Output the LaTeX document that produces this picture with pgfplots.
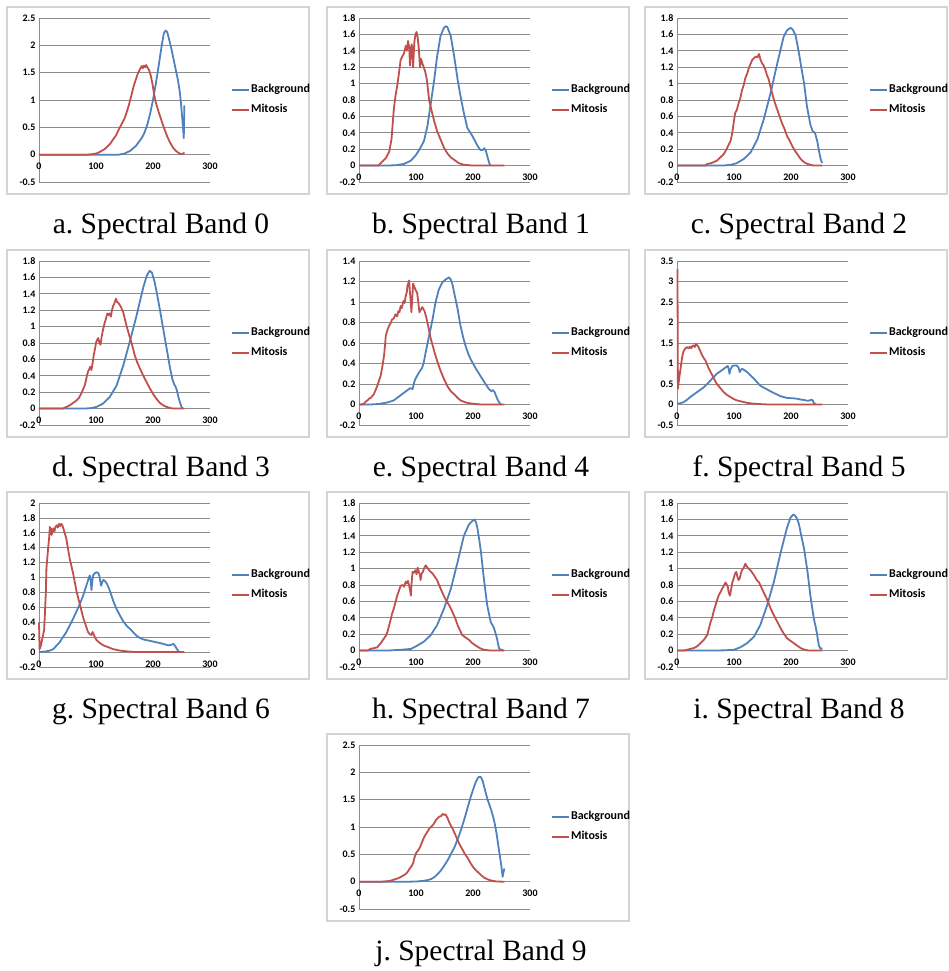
\documentclass[border=0pt]{standalone}
\usepackage{pgfplots}
\pgfplotsset{compat=1.18}
\usepackage{fontspec}
\newfontfamily\carlito{Carlito}
\newfontfamily\libserif{Liberation Serif}
\newcommand\tickfont{\carlito\bfseries\fontsize{10}{11}\selectfont}
\newcommand\legfont{\carlito\bfseries\fontsize{12}{14}\selectfont}
\newcommand\capfont{\libserif\fontsize{29.5}{34}\selectfont}
\definecolor{bgblue}{HTML}{4F81BD}
\definecolor{mired}{HTML}{C0504D}
\definecolor{gridgray}{HTML}{8C8C8C}
\definecolor{boxgray}{HTML}{D4D4D4}
\pgfplotsset{
 panel/.style={
  scale only axis, width=171pt, height=164pt,
  xmin=0, xmax=300, xtick={0,100,200,300},
  axis lines=left, clip=false,
  axis line style={-, draw=gridgray, line width=0.75pt},
  major tick length=0pt,
  ymajorgrids, grid style={draw=gridgray, line width=0.75pt},
  tick label style={font=\tickfont, text=black},
  /pgf/number format/fixed, /pgf/number format/precision=1,
  /pgf/number format/assume math mode=true,
  legend style={at={(axis description cs:1.123,0.5)}, anchor=west, draw=none, fill=none,
    font=\legfont, inner sep=0pt, row sep=7pt,
    nodes={inner sep=1pt, text height=8.5pt, text depth=2.5pt}},
  legend cell align=left,
  legend image code/.code={\draw[##1, line width=1.8pt] (0pt,0pt) -- (17pt,0pt);},
 },
 xlab/.style={xticklabel style={yshift=#1}},
 bg/.style={color=bgblue, line width=1.8pt, no markers, line join=round},
 mi/.style={color=mired, line width=1.8pt, no markers, line join=round},
 ya/.style={ymin=-0.5, ymax=2.5, ytick={-0.5,0,0.5,1,1.5,2,2.5}, xlab=22.3pt},
 yb/.style={ymin=-0.2, ymax=1.8, ytick={-0.2,0,0.2,0.4,0.6,0.8,1,1.2,1.4,1.6,1.8}, xlab=11.4pt},
 ye/.style={ymin=-0.2, ymax=1.4, ytick={-0.2,0,0.2,0.4,0.6,0.8,1,1.2,1.4}, xlab=15.5pt},
 yf/.style={ymin=-0.5, ymax=3.5, ytick={-0.5,0,0.5,1,1.5,2,2.5,3,3.5}, xlab=15.5pt},
 yg/.style={ymin=-0.2, ymax=2, ytick={-0.2,0,0.2,0.4,0.6,0.8,1,1.2,1.4,1.6,1.8,2}, xlab=9.9pt},
}
\begin{document}
\frenchspacing
\begin{tikzpicture}
\useasboundingbox (0pt,0pt) rectangle (948pt,971pt);
% boxes
\foreach \bx/\by in {7/777,327/777,645/777,7/534,327/534,645/534,7/292,327/292,645/292,327/50}{
  \draw[boxgray, line width=1.2pt] (\bx pt,\by pt) rectangle ++(302pt,187pt);
}
% a
\begin{axis}[panel, ya, at={(39pt,789pt)}, anchor=south west]
\addplot[bg] coordinates {(0,0) (140,0) (150,0.02) (160,0.07) (170,0.16) (180,0.3) (185,0.4) (190,0.55) (195,0.75) (200,1.0) (205,1.3) (210,1.63) (215,1.98) (219,2.22) (222,2.27) (225,2.24) (228,2.12) (232,1.95) (236,1.75) (240,1.55) (244,1.35) (247,1.15) (249,0.95) (251,0.7) (253,0.45) (254,0.3) (255,0.9)};
\addlegendentry{Background}
\addplot[mi] coordinates {(0,0) (85,0) (95,0.01) (100,0.02) (105,0.04) (110,0.07) (115,0.1) (120,0.15) (125,0.2) (130,0.28) (135,0.35) (140,0.46) (145,0.56) (150,0.66) (154,0.78) (158,0.92) (162,1.08) (166,1.25) (170,1.38) (174,1.5) (178,1.58) (180,1.62) (182,1.58) (184,1.63) (186,1.6) (188,1.64) (190,1.6) (193,1.55) (196,1.45) (199,1.3) (202,1.1) (205,0.95) (210,0.78) (215,0.62) (220,0.47) (225,0.33) (230,0.22) (235,0.13) (240,0.07) (245,0.03) (250,0.01) (253,0.02) (255,0.04)};
\addlegendentry{Mitosis}
\end{axis}
% b
\begin{axis}[panel, yb, at={(359pt,789pt)}, anchor=south west]
\addplot[bg] coordinates {(0,0) (50,0) (65,0.005) (79,0.02) (91,0.06) (100,0.13) (108,0.22) (114,0.3) (120,0.48) (126,0.76) (132,1.05) (137,1.33) (143,1.58) (149,1.68) (152,1.7) (155,1.69) (161,1.58) (167,1.33) (173,1.05) (178,0.85) (184,0.64) (190,0.46) (199,0.36) (208,0.24) (213,0.19) (217,0.19) (220,0.21) (223,0.17) (226,0.09) (230,0)};
\addlegendentry{Background}
\addplot[mi] coordinates {(0,0) (34,0) (38,0.03) (47,0.09) (53,0.17) (57,0.32) (61,0.68) (64,0.85) (67,0.97) (70,1.12) (73,1.29) (76,1.33) (79,1.37) (82,1.46) (84,1.4) (86,1.52) (88,1.45) (89.5,1.22) (91,1.4) (92.5,1.48) (95,1.2) (97,1.5) (99,1.6) (101,1.63) (103,1.56) (105,1.42) (107,1.2) (109,1.3) (111,1.25) (113,1.21) (116,1.15) (119,1.05) (123,0.8) (127,0.68) (132,0.54) (137,0.42) (143,0.32) (149,0.22) (155,0.15) (161,0.1) (167,0.07) (175,0.03) (184,0.01) (200,0) (255,0)};
\addlegendentry{Mitosis}
\end{axis}
% c
\begin{axis}[panel, yb, at={(677pt,789pt)}, anchor=south west]
\addplot[bg] coordinates {(0,0) (80,0) (95,0.01) (105,0.03) (117,0.08) (129,0.16) (141,0.32) (152,0.56) (164,0.88) (176,1.25) (187,1.57) (193,1.65) (199,1.68) (203,1.66) (208,1.59) (214,1.37) (218,1.2) (223,1.0) (228,0.72) (234,0.5) (238,0.42) (242,0.4) (246,0.3) (249,0.18) (252,0.08) (254,0.04) (255,0.05)};
\addlegendentry{Background}
\addplot[mi] coordinates {(0,0) (50,0) (53,0.02) (60,0.03) (70,0.06) (76,0.1) (82,0.14) (87,0.2) (91,0.26) (94,0.3) (97,0.4) (100,0.55) (102,0.64) (105,0.68) (108,0.76) (111,0.82) (114,0.92) (117,0.98) (120,1.07) (123,1.12) (126,1.19) (129,1.24) (132,1.29) (135,1.31) (138,1.33) (141,1.32) (144,1.36) (146,1.3) (149,1.25) (152,1.22) (155,1.17) (158,1.1) (161,1.05) (164,0.96) (167,0.88) (171,0.78) (176,0.68) (180,0.6) (184,0.52) (189,0.44) (193,0.36) (198,0.3) (202,0.24) (207,0.18) (211,0.14) (217,0.08) (223,0.04) (229,0.02) (234,0.01) (240,0) (255,0)};
\addlegendentry{Mitosis}
\end{axis}
% d
\begin{axis}[panel, yb, at={(39pt,546pt)}, anchor=south west]
\addplot[bg] coordinates {(0,0) (80,0) (90,0.005) (101,0.02) (112,0.06) (124,0.14) (136,0.28) (148,0.53) (159,0.81) (171,1.13) (183,1.48) (189,1.62) (194,1.68) (198,1.66) (203,1.54) (207,1.4) (212,1.21) (216,1.05) (221,0.85) (226,0.65) (230,0.49) (234,0.36) (237,0.3) (240,0.26) (242,0.22) (245,0.13) (248,0.06) (250,0.02) (252,0)};
\addlegendentry{Background}
\addplot[mi] coordinates {(0,0) (42,0) (48,0.02) (54,0.04) (60,0.07) (66,0.1) (70,0.13) (74,0.18) (77,0.23) (80,0.28) (82,0.33) (84,0.4) (86,0.45) (88,0.48) (90,0.51) (92,0.47) (94,0.55) (96,0.65) (98,0.72) (100,0.8) (102,0.84) (104,0.86) (106,0.8) (108,0.78) (110,0.88) (112,0.95) (115,1.04) (118,1.11) (120,1.16) (122,1.14) (124,1.16) (126,1.12) (128,1.2) (130,1.25) (132,1.28) (135,1.34) (137,1.3) (139,1.29) (141,1.27) (143,1.25) (145,1.22) (148,1.17) (151,1.08) (154,1.0) (158,0.9) (162,0.81) (165,0.73) (168,0.65) (172,0.57) (177,0.49) (183,0.4) (189,0.32) (195,0.24) (200,0.18) (206,0.12) (212,0.07) (218,0.04) (224,0.02) (232,0.005) (236,0) (255,0)};
\addlegendentry{Mitosis}
\end{axis}
% e
\begin{axis}[panel, ye, at={(359pt,546pt)}, anchor=south west]
\addplot[bg] coordinates {(0,0) (20,0) (35,0.005) (50,0.02) (61,0.04) (73,0.09) (85,0.14) (90,0.16) (94,0.15) (97,0.22) (99,0.25) (105,0.31) (111,0.36) (114,0.42) (117,0.51) (123,0.67) (129,0.83) (134,0.99) (140,1.12) (146,1.19) (152,1.22) (158,1.24) (161,1.22) (164,1.17) (167,1.09) (173,0.93) (178,0.77) (183,0.65) (187,0.57) (192,0.49) (196,0.44) (205,0.35) (214,0.27) (222,0.2) (228,0.15) (232,0.13) (235,0.14) (238,0.12) (240,0.09) (243,0.05) (246,0.02) (249,0)};
\addlegendentry{Background}
\addplot[mi] coordinates {(0,0) (5,0) (9,0.01) (12,0.03) (15,0.04) (18,0.06) (20,0.06) (23,0.08) (26,0.1) (29,0.14) (32,0.18) (35,0.23) (38,0.28) (41,0.37) (44,0.48) (46,0.6) (47,0.67) (50,0.73) (53,0.77) (56,0.8) (58,0.83) (61,0.84) (64,0.88) (67,0.86) (69,0.91) (71,0.9) (73,0.96) (75,0.94) (78,1.01) (80,0.99) (82,1.06) (84,1.1) (85,1.16) (87,1.19) (88,1.21) (89,1.12) (90,1.05) (91,0.98) (92,0.9) (93,1.0) (95,1.18) (97,1.15) (99,1.12) (102,1.09) (104,1.0) (106,0.9) (108,0.92) (111,0.95) (113,0.93) (115,0.91) (118,0.85) (120,0.8) (123,0.72) (126,0.64) (130,0.56) (134,0.48) (138,0.41) (143,0.33) (149,0.25) (155,0.18) (161,0.13) (167,0.1) (172,0.07) (178,0.04) (187,0.02) (196,0.01) (213,0) (255,0)};
\addlegendentry{Mitosis}
\end{axis}
% f
\begin{axis}[panel, yf, at={(677pt,546pt)}, anchor=south west]
\addplot[bg] coordinates {(0,0.02) (6,0.03) (12,0.06) (18,0.12) (23,0.18) (29,0.24) (35,0.3) (41,0.36) (47,0.42) (53,0.5) (59,0.59) (64,0.67) (70,0.75) (76,0.81) (82,0.87) (86,0.91) (89,0.94) (91,0.85) (92,0.75) (94,0.86) (97,0.94) (101,0.95) (105,0.95) (108,0.9) (110,0.79) (112,0.84) (114,0.87) (118,0.84) (123,0.79) (129,0.71) (135,0.63) (140,0.55) (146,0.46) (152,0.41) (158,0.37) (164,0.32) (170,0.28) (176,0.24) (182,0.2) (188,0.18) (193,0.16) (205,0.15) (211,0.14) (217,0.12) (223,0.11) (229,0.09) (233,0.1) (236,0.12) (238,0.1) (240,0.04) (243,0)};
\addlegendentry{Background}
\addplot[mi] coordinates {(0.8,3.3) (1.6,0.38) (3,0.55) (5,0.75) (7,0.95) (9,1.15) (11,1.28) (14,1.36) (16,1.38) (18,1.4) (20,1.37) (23,1.41) (25,1.37) (27,1.43) (29,1.44) (31,1.4) (33,1.48) (35,1.45) (37,1.42) (39,1.36) (41,1.3) (44,1.2) (47,1.13) (50,1.07) (53,0.97) (56,0.87) (59,0.79) (62,0.71) (66,0.6) (70,0.5) (76,0.4) (82,0.3) (88,0.23) (94,0.18) (100,0.13) (105,0.1) (114,0.07) (123,0.04) (135,0.02) (146,0.01) (160,0) (255,0)};
\addlegendentry{Mitosis}
\end{axis}
% g
\begin{axis}[panel, yg, at={(39pt,304pt)}, anchor=south west]
\addplot[bg] coordinates {(0,0) (7,0.005) (13,0.01) (19,0.02) (25,0.04) (30,0.08) (36,0.13) (42,0.2) (48,0.27) (54,0.36) (60,0.45) (66,0.55) (72,0.65) (78,0.77) (83,0.89) (86,0.96) (89,1.03) (91,0.95) (92,0.83) (93.5,0.95) (95,1.03) (98,1.06) (101,1.07) (104,1.06) (106,1.02) (108,0.93) (109,0.89) (111,0.94) (113,0.97) (116,0.95) (119,0.92) (123,0.85) (127,0.76) (131,0.67) (136,0.58) (142,0.49) (148,0.41) (154,0.35) (160,0.31) (166,0.26) (171,0.22) (177,0.19) (183,0.17) (195,0.15) (207,0.13) (218,0.11) (227,0.09) (233,0.1) (236,0.11) (239,0.08) (242,0.04) (246,0)};
\addlegendentry{Background}
\addplot[mi] coordinates {(0,0.4) (1,0.04) (3,0.08) (5,0.15) (7,0.22) (9,0.3) (10,0.45) (12,0.8) (13,1.12) (15,1.3) (16,1.39) (18,1.55) (19,1.68) (20,1.6) (21,1.66) (22,1.57) (24,1.62) (25,1.66) (27,1.62) (29,1.68) (31,1.7) (33,1.67) (35,1.72) (37,1.69) (39,1.72) (41,1.7) (43,1.65) (45,1.6) (48,1.52) (51,1.38) (54,1.25) (57,1.15) (60,1.05) (63,0.93) (66,0.81) (69,0.72) (72,0.63) (75,0.54) (78,0.45) (82,0.36) (86,0.27) (89,0.24) (92,0.23) (94,0.27) (96,0.24) (98,0.2) (101,0.16) (107,0.12) (113,0.09) (120,0.07) (130,0.04) (142,0.02) (154,0.01) (170,0) (255,0)};
\addlegendentry{Mitosis}
\end{axis}
% h
\begin{axis}[panel, yb, at={(359pt,304pt)}, anchor=south west]
\addplot[bg] coordinates {(0,0) (50,0) (73,0.01) (91,0.02) (102,0.06) (114,0.11) (126,0.19) (137,0.31) (149,0.51) (161,0.75) (173,1.08) (184,1.4) (193,1.54) (199,1.58) (203,1.6) (206,1.55) (208,1.48) (211,1.35) (214,1.2) (219,0.88) (225,0.55) (231,0.35) (235,0.3) (237,0.27) (240,0.2) (242,0.15) (244,0.08) (246,0.02) (250,0.01) (253,0)};
\addlegendentry{Background}
\addplot[mi] coordinates {(0,0) (15,0) (20,0.02) (26,0.03) (32,0.04) (38,0.09) (44,0.15) (47,0.18) (50,0.23) (53,0.31) (56,0.39) (58,0.45) (61,0.51) (64,0.59) (67,0.67) (70,0.73) (73,0.79) (76,0.8) (79,0.78) (82,0.84) (84,0.82) (86,0.85) (88,0.79) (90,0.72) (91,0.67) (92.5,0.85) (94,0.96) (96,0.95) (99,0.98) (101,0.93) (103,1.01) (105,0.96) (107,0.92) (108,0.86) (110,0.94) (112,0.96) (114,1.0) (117,1.04) (120,1.01) (123,0.98) (126,0.96) (129,0.94) (133,0.9) (137,0.86) (141,0.79) (146,0.71) (150,0.65) (155,0.59) (160,0.53) (164,0.47) (169,0.39) (173,0.31) (177,0.25) (181,0.19) (187,0.16) (193,0.13) (199,0.09) (205,0.06) (212,0.03) (219,0.01) (231,0) (255,0)};
\addlegendentry{Mitosis}
\end{axis}
% i
\begin{axis}[panel, yb, at={(677pt,304pt)}, anchor=south west]
\addplot[bg] coordinates {(0,0) (60,0) (82,0.003) (100,0.01) (111,0.04) (123,0.09) (135,0.17) (146,0.31) (158,0.55) (170,0.84) (182,1.2) (193,1.5) (199,1.62) (204,1.66) (208,1.64) (211,1.6) (214,1.54) (218,1.4) (223,1.24) (229,0.96) (234,0.67) (240,0.39) (243,0.3) (245,0.23) (247,0.14) (249,0.06) (252,0.02) (255,0.03)};
\addlegendentry{Background}
\addplot[mi] coordinates {(0,0) (12,0) (23,0.02) (29,0.03) (35,0.05) (41,0.09) (47,0.13) (50,0.16) (53,0.19) (56,0.27) (59,0.35) (62,0.41) (64,0.47) (67,0.54) (70,0.61) (73,0.67) (76,0.71) (79,0.75) (82,0.79) (85,0.83) (87,0.81) (89,0.78) (91,0.7) (93,0.67) (95,0.75) (97,0.83) (99,0.87) (102,0.94) (104,0.96) (106,0.9) (108,0.86) (110,0.88) (112,0.94) (114,0.98) (117,1.01) (120,1.06) (123,1.02) (126,1.0) (130,0.97) (135,0.92) (140,0.86) (144,0.83) (148,0.77) (152,0.71) (157,0.64) (161,0.57) (165,0.5) (170,0.43) (176,0.35) (182,0.27) (187,0.21) (193,0.15) (199,0.12) (205,0.09) (211,0.06) (217,0.03) (224,0.01) (231,0) (255,0)};
\addlegendentry{Mitosis}
\end{axis}
% j
\begin{axis}[panel, ya, at={(359pt,62pt)}, anchor=south west]
\addplot[bg] coordinates {(0,0) (90,0) (103,0.005) (113,0.015) (121,0.03) (127,0.05) (133,0.09) (139,0.15) (144,0.21) (150,0.3) (156,0.4) (162,0.52) (168,0.64) (174,0.8) (179,0.95) (185,1.15) (191,1.37) (196,1.55) (200,1.68) (204,1.8) (208,1.89) (211,1.92) (214,1.91) (217,1.84) (220,1.72) (223,1.6) (226,1.49) (229,1.4) (232,1.31) (235,1.2) (238,1.07) (241,0.9) (243,0.76) (246,0.55) (249,0.34) (251,0.18) (252,0.09) (253,0.15) (255,0.24)};
\addlegendentry{Background}
\addplot[mi] coordinates {(0,0) (40,0) (51,0.01) (56,0.02) (62,0.04) (68,0.06) (74,0.09) (79,0.12) (83,0.15) (86,0.19) (89,0.24) (92,0.28) (95,0.34) (97,0.43) (100,0.52) (103,0.56) (106,0.61) (109,0.68) (112,0.76) (115,0.83) (118,0.88) (121,0.93) (124,0.98) (127,1.01) (130,1.04) (133,1.09) (135,1.13) (138,1.16) (141,1.19) (144,1.2) (147,1.24) (150,1.22) (152,1.23) (155,1.17) (159,1.07) (162,1.01) (165,0.95) (169,0.86) (173,0.76) (177,0.67) (182,0.58) (186,0.5) (191,0.43) (195,0.35) (200,0.27) (204,0.22) (208,0.18) (214,0.12) (220,0.07) (226,0.04) (232,0.02) (240,0.005) (250,0) (255,0)};
\addlegendentry{Mitosis}
\end{axis}
% captions
\node[anchor=base, font=\capfont, inner sep=0pt] at (161pt,737pt) {a. Spectral Band 0};
\node[anchor=base, font=\capfont, inner sep=0pt] at (481pt,737pt) {b. Spectral Band 1};
\node[anchor=base, font=\capfont, inner sep=0pt] at (799pt,737pt) {c. Spectral Band 2};
\node[anchor=base, font=\capfont, inner sep=0pt] at (161pt,494pt) {d. Spectral Band 3};
\node[anchor=base, font=\capfont, inner sep=0pt] at (481pt,494pt) {e. Spectral Band 4};
\node[anchor=base, font=\capfont, inner sep=0pt] at (799pt,494pt) {f. Spectral Band 5};
\node[anchor=base, font=\capfont, inner sep=0pt] at (161pt,252pt) {g. Spectral Band 6};
\node[anchor=base, font=\capfont, inner sep=0pt] at (481pt,252pt) {h. Spectral Band 7};
\node[anchor=base, font=\capfont, inner sep=0pt] at (799pt,252pt) {i. Spectral Band 8};
\node[anchor=base, font=\capfont, inner sep=0pt] at (481pt,10pt) {j. Spectral Band 9};
\end{tikzpicture}
\end{document}
